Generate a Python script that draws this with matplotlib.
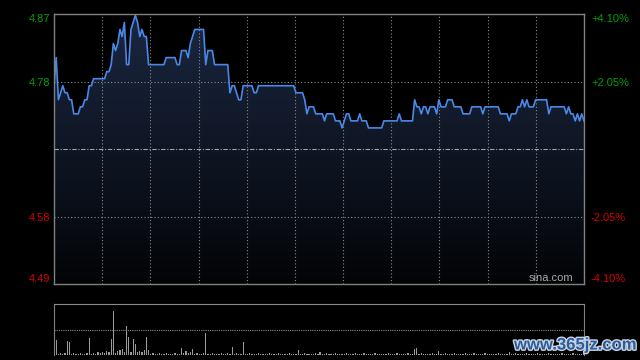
import numpy as np
import matplotlib
matplotlib.use("Agg")
import matplotlib.pyplot as plt
import matplotlib.patheffects as pe

# ---- data -------------------------------------------------------------
prev_close = 4.68
price_ticks = [4.49, 4.58, 4.78, 4.87]
price_tick_pos = [4.488, 4.584, 4.776, 4.872]
pct_labels = ["-4.10%", "-2.05%", "+2.05%", "+4.10%"]
price_colors = ["#d40000", "#d40000", "#00a000", "#00a000"]

prices = [
    4.77, 4.81, 4.75, 4.76, 4.77, 4.76, 4.76, 4.75, 4.75, 4.73,
    4.73, 4.73, 4.74, 4.74, 4.75, 4.75, 4.77, 4.77, 4.78, 4.78,
    4.78, 4.78, 4.78, 4.78, 4.79, 4.79, 4.80, 4.83, 4.82, 4.83,
    4.85, 4.84, 4.86, 4.80, 4.80, 4.85, 4.86, 4.87, 4.86, 4.84,
    4.85, 4.84, 4.84, 4.80, 4.80, 4.80, 4.80, 4.80, 4.80, 4.80,
    4.80, 4.81, 4.81, 4.81, 4.81, 4.81, 4.80, 4.80, 4.82, 4.82,
    4.82, 4.81, 4.83, 4.84, 4.85, 4.85, 4.85, 4.85, 4.85, 4.80,
    4.82, 4.82, 4.82, 4.80, 4.80, 4.80, 4.80, 4.80, 4.80, 4.80,
    4.76, 4.77, 4.77, 4.76, 4.75, 4.75, 4.77, 4.77, 4.77, 4.77,
    4.77, 4.76, 4.76, 4.77, 4.77, 4.77, 4.77, 4.77, 4.77, 4.77,
    4.77, 4.77, 4.77, 4.77, 4.77, 4.77, 4.77, 4.77, 4.77, 4.77,
    4.76, 4.76, 4.76, 4.76, 4.75, 4.73, 4.74, 4.74, 4.74, 4.73,
    4.73, 4.73, 4.73, 4.72, 4.73, 4.73, 4.73, 4.73, 4.72, 4.72,
    4.72, 4.71, 4.72, 4.73, 4.73, 4.72, 4.72, 4.72, 4.72, 4.73,
    4.72, 4.72, 4.72, 4.71, 4.71, 4.71, 4.71, 4.71, 4.71, 4.71,
    4.72, 4.72, 4.72, 4.72, 4.72, 4.72, 4.72, 4.73, 4.72, 4.72,
    4.72, 4.72, 4.72, 4.72, 4.75, 4.74, 4.74, 4.73, 4.74, 4.74,
    4.73, 4.74, 4.74, 4.74, 4.73, 4.75, 4.74, 4.74, 4.74, 4.75,
    4.75, 4.75, 4.74, 4.74, 4.74, 4.74, 4.73, 4.73, 4.73, 4.73,
    4.74, 4.74, 4.74, 4.74, 4.74, 4.73, 4.74, 4.74, 4.74, 4.74,
    4.74, 4.74, 4.74, 4.73, 4.73, 4.73, 4.73, 4.72, 4.73, 4.73,
    4.73, 4.74, 4.74, 4.75, 4.74, 4.75, 4.74, 4.74, 4.74, 4.75,
    4.75, 4.75, 4.75, 4.75, 4.75, 4.73, 4.74, 4.74, 4.74, 4.74,
    4.74, 4.74, 4.74, 4.73, 4.74, 4.73, 4.73, 4.72, 4.73, 4.72,
    4.73, 4.72,
]

volumes = [
    10, 15, 1, 2, 1, 2, 14, 13, 1, 2,
    1, 1, 2, 1, 1, 2, 17, 1, 2, 1,
    3, 2, 3, 2, 4, 3, 16, 44, 2, 4,
    5, 6, 3, 29, 18, 3, 16, 11, 3, 4,
    3, 5, 18, 5, 1, 2, 1, 1, 2, 1,
    1, 2, 1, 1, 1, 2, 1, 1, 7, 2,
    4, 2, 3, 6, 1, 2, 1, 1, 2, 22,
    1, 1, 2, 1, 1, 1, 2, 1, 1, 2,
    1, 8, 1, 2, 1, 1, 13, 1, 1, 2,
    1, 1, 1, 2, 1, 1, 1, 1, 2, 1,
    1, 1, 2, 1, 1, 1, 1, 2, 1, 1,
    1, 5, 1, 1, 2, 1, 1, 1, 1, 2,
    1, 3, 1, 1, 2, 1, 1, 1, 2, 1,
    1, 1, 1, 2, 1, 1, 1, 2, 1, 1,
    1, 2, 1, 1, 1, 1, 2, 1, 1, 1,
    1, 1, 2, 1, 1, 1, 2, 1, 1, 1,
    1, 2, 1, 1, 6, 7, 1, 2, 1, 1,
    1, 1, 2, 1, 1, 4, 1, 1, 2, 1,
    1, 1, 2, 1, 1, 1, 1, 2, 1, 1,
    1, 2, 1, 1, 1, 1, 2, 1, 1, 1,
    1, 1, 2, 1, 1, 1, 1, 3, 1, 1,
    2, 1, 1, 1, 1, 2, 1, 1, 1, 1,
    2, 1, 1, 1, 1, 2, 1, 1, 1, 1,
    1, 2, 1, 1, 1, 1, 2, 1, 1, 1,
    1, 2,
]

assert len(prices) == 242 and len(volumes) == 242
minutes = np.arange(len(prices))

# ---- figure -----------------------------------------------------------
fig = plt.figure(figsize=(6.4, 3.6), dpi=100, facecolor="black")
ax = fig.add_axes([54 / 640, 1 - 284 / 360, 530 / 640, 270 / 360])
axv = fig.add_axes([54 / 640, 1 - 355 / 360, 530 / 640, 51 / 360])

ymin, ymax = price_tick_pos[0], price_tick_pos[-1]
x0, x1 = 0, len(prices) - 1

for a in (ax, axv):
    a.set_facecolor("black")
    a.set_xlim(x0, x1)

ax.set_ylim(ymin, ymax)

# gradient fill below the line
grad = np.linspace(1, 0, 256).reshape(-1, 1)
top_c = np.array([0.105, 0.155, 0.255])
bot_c = np.array([0.01, 0.015, 0.025])
img = bot_c + (top_c - bot_c) * grad[..., None]
im = ax.imshow(img, extent=[x0, x1, ymin, ymax], aspect="auto", origin="upper", zorder=1)
poly = ax.fill_between(minutes, prices, ymin, color="none", lw=0)
clip = poly.get_paths()[0]
im.set_clip_path(clip, transform=ax.transData)

ax.plot(minutes, prices, color="#4a88e8", lw=1.2, zorder=4, solid_joinstyle="round")

# grid
for k in range(1, 11 + 1):
    ax.axvline(k * x1 / 11, color="#8a8a8a", lw=0.8, ls=(0, (1, 2)), zorder=3)
for v in price_tick_pos[1:-1]:
    ax.axhline(v, color="#8a8a8a", lw=0.8, ls=(0, (1, 2)), zorder=3)
ax.axhline(prev_close, color="#9aa3b0", lw=0.8, ls=(0, (4, 1.5, 1, 1.5)), zorder=3)

for s in ax.spines.values():
    s.set_color("#808080")
    s.set_linewidth(1)
    s.set_zorder(5)

ax.set_xticks([])
ax.set_yticks(price_tick_pos)
ax.set_yticklabels([f"{p:.2f}" for p in price_ticks])
ax.tick_params(axis="y", length=0, pad=3, labelsize=8)
for lab, c in zip(ax.get_yticklabels(), price_colors):
    lab.set_color(c)
    lab.set_fontfamily("Liberation Sans")
labs = ax.get_yticklabels()
labs[0].set_va("bottom")
labs[-1].set_va("top")

axr = ax.twinx()
axr.set_ylim(ymin, ymax)
axr.set_yticks(price_tick_pos)
axr.set_yticklabels(pct_labels)
axr.tick_params(axis="y", length=0, pad=5, labelsize=8)
for lab, c in zip(axr.get_yticklabels(), price_colors):
    lab.set_color(c)
    lab.set_fontfamily("Liberation Sans")
rl = axr.get_yticklabels()
rl[0].set_va("bottom")
rl[-1].set_va("top")
for s in axr.spines.values():
    s.set_visible(False)

ax.text(0.98, 0.005, "sina.com", transform=ax.transAxes, ha="right", va="bottom",
        color="#a8a8a8", fontsize=8, family="Liberation Sans", zorder=6)

# volume panel
axv.bar(minutes, volumes, width=0.55, color="#9a9a9a", lw=0)
vmax = max(volumes) * 51 / 44
axv.set_ylim(0, vmax)
axv.axhline(vmax / 2, color="#8a8a8a", lw=0.8, ls=(0, (1, 1)))
axv.set_xticks([])
axv.set_yticks([])
axv.spines["left"].set_color("#808080")
axv.spines["right"].set_color("#808080")
axv.spines["top"].set_color("#8a8a8a")
axv.spines["top"].set_linestyle((0, (1, 1)))
axv.spines["bottom"].set_visible(False)

fig.text(575 / 640, 1 - 345 / 360, "www.365jz.com", ha="center", va="center",
         fontsize=12, fontweight="bold", family="Liberation Sans", color="#2c5c9c",
         path_effects=[pe.withStroke(linewidth=2, foreground="#c8d4e4")])

fig.savefig("out.png", dpi=100, facecolor="black")
